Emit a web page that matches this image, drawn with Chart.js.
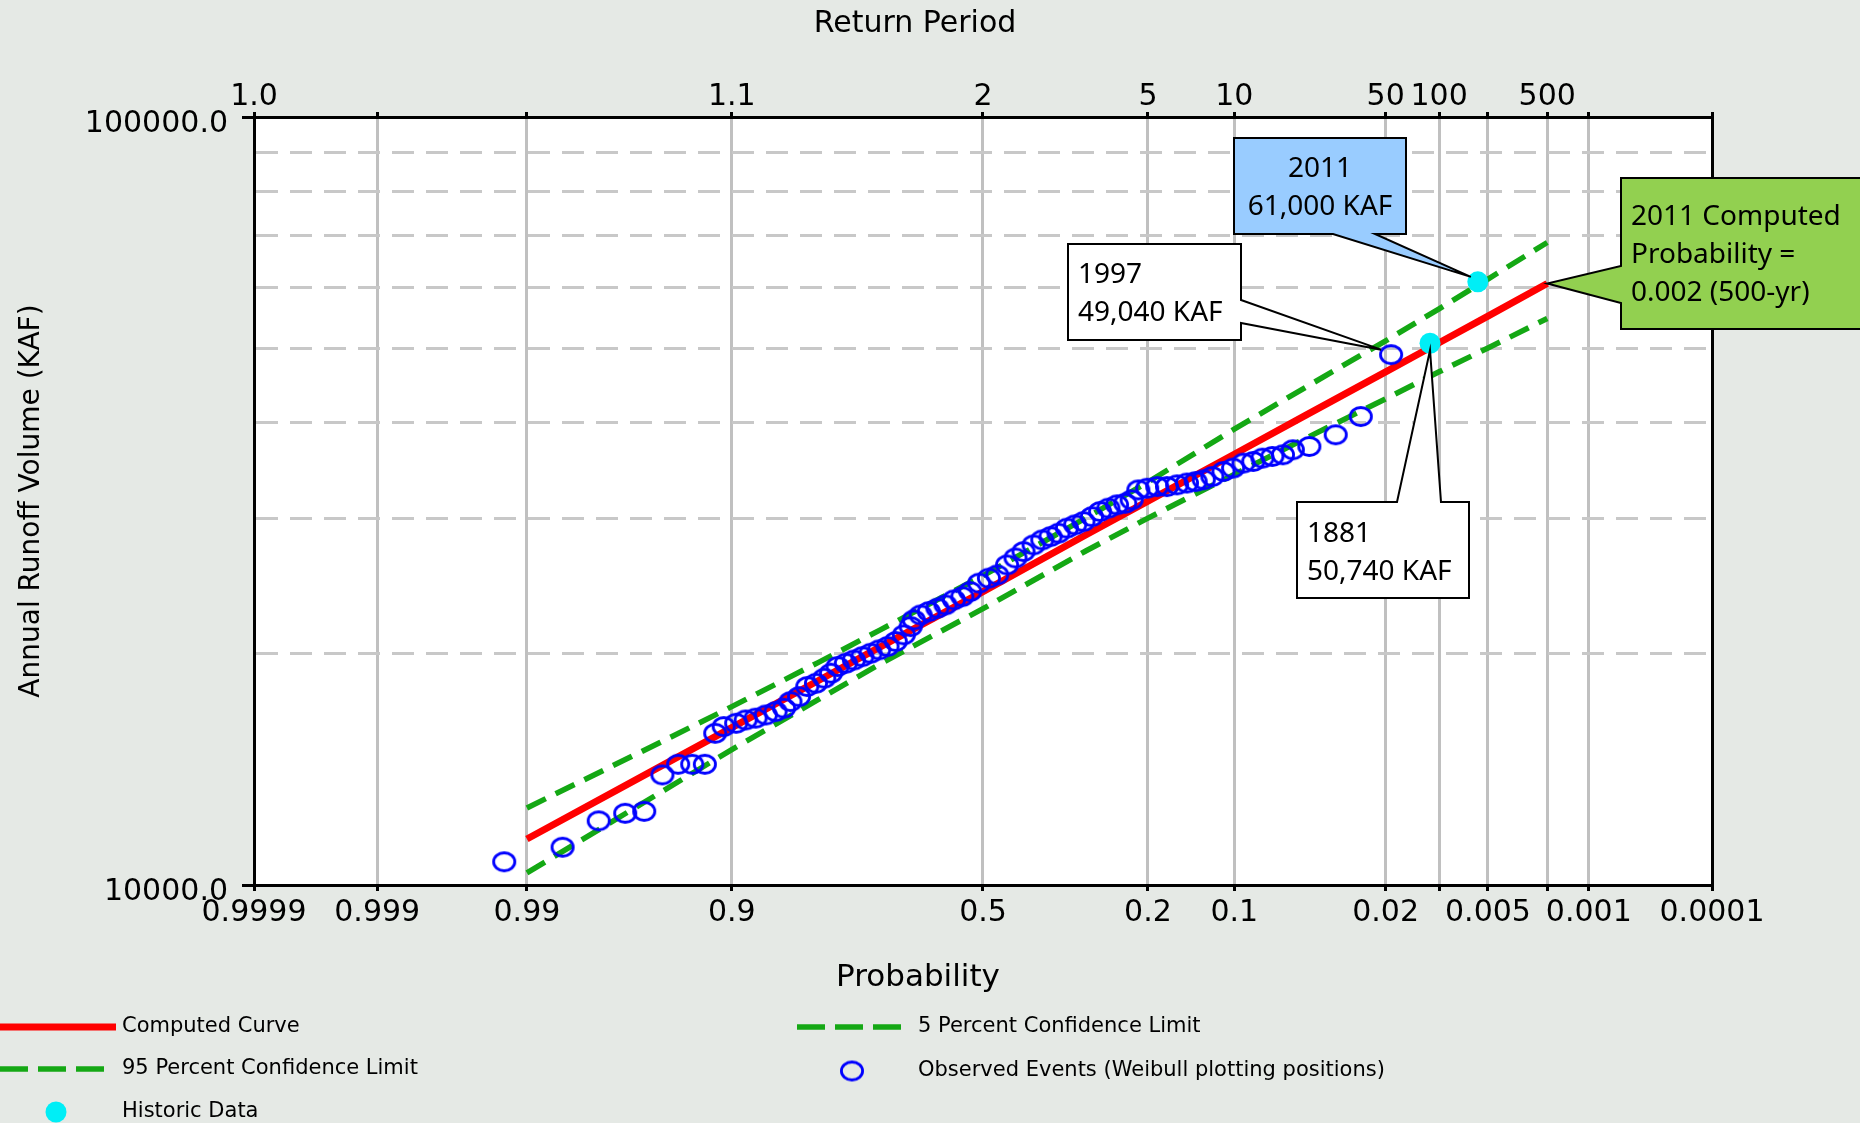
<!DOCTYPE html>
<html>
<head>
<meta charset="utf-8">
<title>Annual Runoff Volume Frequency Curve</title>
<script src="https://cdn.jsdelivr.net/npm/chart.js@4.4.1/dist/chart.umd.min.js"></script>
<style>
  html, body { margin: 0; padding: 0; background: #e5e9e5; overflow: hidden; }
  #chart { display: block; }
</style>
</head>
<body>
<canvas id="chart" width="1860" height="1123"></canvas>
<script>
// Axis ticks (exceedance probability, return period, volume)
const probTicks = [0.9999, 0.999, 0.99, 0.9, 0.5, 0.2, 0.1, 0.02, 0.01, 0.005, 0.002, 0.001, 0.0001]
const probLabels = ['0.9999', '0.999', '0.99', '0.9', '0.5', '0.2', '0.1', '0.02', '', '0.005', '', '0.001', '0.0001']
const returnLabels = ['1.0', '', '', '1.1', '2', '5', '10', '50', '100', '', '500', '', '']
const volumeTicks = [10000, 20000, 30000, 40000, 50000, 60000, 70000, 80000, 90000, 100000]
const volumeLabels = ['10000.0', '', '', '', '', '', '', '', '', '100000.0']

// Computed frequency curve and confidence limits (KAF)
const curveProb = [0.99, 0.95, 0.9, 0.8, 0.7, 0.5, 0.3, 0.2, 0.1, 0.05, 0.02, 0.01, 0.005, 0.002]
const computedCurve = [11480, 14270, 16030, 18450, 20420, 24100, 28560, 31610, 36380, 40880, 46580, 50820, 55050, 60700]
const upperLimit5 = [12600, 15340, 17070, 19480, 21490, 25280, 30050, 33470, 39230, 44460, 51120, 56270, 61520, 68640]
const lowerLimit95 = [10370, 13200, 15010, 17430, 19410, 22900, 27220, 30040, 34250, 38150, 42960, 46580, 50030, 54660]

// Observed events (Weibull plotting positions)
const observedProb = [
  0.9927, 0.984, 0.975, 0.966, 0.958, 0.949, 0.940, 0.931, 0.922, 0.914,
  0.907, 0.896, 0.887, 0.877, 0.866, 0.855, 0.845, 0.837, 0.826, 0.815,
  0.803, 0.791, 0.781, 0.771, 0.758, 0.745, 0.731, 0.717, 0.702, 0.687,
  0.672, 0.657, 0.644, 0.638, 0.625, 0.609, 0.592, 0.576, 0.559, 0.542,
  0.526, 0.508, 0.488, 0.471, 0.451, 0.434, 0.418, 0.398, 0.381, 0.365,
  0.350, 0.334, 0.319, 0.304, 0.289, 0.275, 0.261, 0.247, 0.234, 0.224,
  0.214, 0.201, 0.187, 0.174, 0.161, 0.149, 0.139, 0.130, 0.121, 0.110,
  0.101, 0.092, 0.084, 0.077, 0.070, 0.063, 0.057, 0.048, 0.036, 0.027,
  0.0187
]
const observedVolume = [
  10720, 11200, 12120, 12400, 12470, 13910, 14360, 14360, 14360, 15760,
  16080, 16240, 16400, 16490, 16650, 16820, 16990, 17330, 17590, 18130,
  18310, 18590, 18870, 19250, 19440, 19630, 19830, 20030, 20240, 20440,
  20750, 21170, 21700, 22140, 22470, 22700, 22930, 23160, 23510, 23740,
  24100, 24720, 25090, 25340, 26110, 26660, 27170, 27720, 28140, 28420,
  28710, 29150, 29440, 29730, 30170, 30640, 30950, 31260, 31410, 31730,
  32690, 32860, 33020, 33020, 33190, 33370, 33520, 33700, 34030, 34550,
  34900, 35430, 35600, 35960, 36140, 36320, 36870, 37240, 38570, 40740,
  49040
]

// Historic data
const historicYears = ['2011', '1881']
const historicProb = [0.0058, 0.0113]
const historicVolume = [61000, 50740]

// standard normal deviate for an exceedance probability (A&S 26.2.23)
function zOf(p) {
  const q = p > 0.5 ? 1 - p : p
  const t = Math.sqrt(-2 * Math.log(q))
  const z = t - (2.515517 + 0.802853 * t + 0.010328 * t * t) /
    (1 + 1.432788 * t + 0.189269 * t * t + 0.001308 * t * t * t)
  return p > 0.5 ? -z : z
}

// exceedance probability for a deviate (A&S 26.2.17)
function probOf(z) {
  const t = 1 / (1 + 0.2316419 * Math.abs(z))
  const d = 0.3989423 * Math.exp(-z * z / 2)
  const q = d * t * (0.3193815 + t * (-0.3565638 + t * (1.781478 + t * (-1.821256 + t * 1.330274))))
  return z > 0 ? q : 1 - q
}

// normal probability paper axis
class ProbabilityScale extends Chart.Scale {
  determineDataLimits() {
    this.min = this.options.min
    this.max = this.options.max
  }
  buildTicks() {
    return probTicks.map(value => ({ value }))
  }
  configure() {
    super.configure()
    this._zStart = zOf(this.min)
    this._zRange = zOf(this.max) - this._zStart
  }
  getLabelForValue(value) {
    return String(value)
  }
  getPixelForValue(value) {
    return this.getPixelForDecimal((zOf(value) - this._zStart) / this._zRange)
  }
  getValueForPixel(pixel) {
    return probOf(this._zStart + this.getDecimalForPixel(pixel) * this._zRange)
  }
}
ProbabilityScale.id = 'probability'
ProbabilityScale.defaults = {}
Chart.register(ProbabilityScale)

function makeRing(rx, ry, width, color) {
  const c = document.createElement('canvas')
  c.width = Math.ceil(2 * rx + width + 2)
  c.height = Math.ceil(2 * ry + width + 2)
  const g = c.getContext('2d')
  g.lineWidth = width
  g.strokeStyle = color
  g.beginPath()
  g.ellipse(c.width / 2, c.height / 2, rx, ry, 0, 0, Math.PI * 2)
  g.stroke()
  return c
}
const ring = makeRing(10.6, 9.0, 2.8, '#0000ff')

const pairs = (xs, ys) => xs.map((x, i) => ({ x, y: ys[i] }))
const tickFont = { family: 'DejaVu Sans', size: 30 }
const green = '#14a814'

const datasets = [
  {
    label: 'Computed Curve',
    data: pairs(curveProb, computedCurve),
    showLine: true,
    borderColor: '#ff0000',
    borderWidth: 7,
    pointRadius: 0,
    order: 4
  },
  {
    label: '5 Percent Confidence Limit',
    data: pairs(curveProb, upperLimit5),
    showLine: true,
    borderColor: green,
    borderWidth: 5.5,
    borderDash: [21, 11],
    pointRadius: 0,
    order: 3
  },
  {
    label: '95 Percent Confidence Limit',
    data: pairs(curveProb, lowerLimit95),
    showLine: true,
    borderColor: green,
    borderWidth: 5.5,
    borderDash: [21, 11],
    pointRadius: 0,
    order: 3
  },
  {
    label: 'Observed Events (Weibull plotting positions)',
    data: pairs(observedProb, observedVolume),
    showLine: false,
    pointStyle: ring,
    pointRadius: 11,
    order: 1
  },
  {
    label: 'Historic Data',
    data: pairs(historicProb, historicVolume),
    showLine: false,
    pointStyle: 'circle',
    pointRadius: 10.5,
    pointBackgroundColor: '#00eef6',
    backgroundColor: '#00eef6',
    pointBorderWidth: 0,
    borderWidth: 0,
    order: 0
  }
]

const legendSlots = [
  { dataset: 0, x0: 0, x1: 116, y: 1027, textX: 122 },
  { dataset: 1, x0: 797, x1: 906, y: 1027, textX: 918 },
  { dataset: 2, x0: 0, x1: 106, y: 1069, textX: 122 },
  { dataset: 3, x0: 852, y: 1071, textX: 918 },
  { dataset: 4, x0: 56, y: 1112, textX: 122 }
]

const callouts = [
  {
    lines: [historicYears[0], '61,000 KAF'], box: [1234, 138, 1406, 234], side: 'bottom', base: [1333, 1375],
    dataset: 4, index: 0, tipDx: -7, tipDy: -5, fill: '#99ccff', align: 'center', textX: 1320, textY: 169
  },
  {
    lines: ['1997', '49,040 KAF'], box: [1068, 244, 1241, 340], side: 'right', base: [300, 323],
    dataset: 3, index: observedProb.length - 1, tipDx: -10, tipDy: -5, fill: '#ffffff', align: 'left', textX: 1078, textY: 275
  },
  {
    lines: [historicYears[1], '50,740 KAF'], box: [1297, 502, 1469, 598], side: 'top', base: [1397, 1441],
    dataset: 4, index: 1, tipDx: 0, tipDy: 7, fill: '#ffffff', align: 'left', textX: 1307, textY: 534
  },
  {
    lines: ['2011 Computed', 'Probability =', '0.002 (500-yr)'], box: [1621, 178, 1868, 329], side: 'left', base: [266, 303],
    dataset: 0, index: curveProb.length - 1, tipDx: 0, tipDy: 0, fill: '#92d050', align: 'left', textX: 1631, textY: 217
  }
]

const backgroundPlugin = {
  id: 'background',
  beforeDraw(chart) {
    const { ctx, chartArea: a } = chart
    ctx.save()
    ctx.fillStyle = '#e5e9e5'
    ctx.fillRect(0, 0, chart.width, chart.height)
    ctx.fillStyle = '#ffffff'
    ctx.fillRect(a.left, a.top, a.right - a.left, a.bottom - a.top)
    ctx.restore()
  }
}

const titlesPlugin = {
  id: 'titles',
  afterDraw(chart) {
    const { ctx } = chart
    ctx.save()
    ctx.fillStyle = '#000'
    ctx.textAlign = 'center'
    ctx.textBaseline = 'middle'
    ctx.font = '30px "DejaVu Sans"'
    ctx.fillText('Return Period', 915, 24)
    ctx.font = '31px "DejaVu Sans"'
    ctx.fillText('Probability', 918, 978)
    ctx.restore()
  }
}

const legendPlugin = {
  id: 'bottomLegend',
  afterDraw(chart) {
    const { ctx } = chart
    ctx.save()
    ctx.font = '21px "DejaVu Sans"'
    ctx.textBaseline = 'middle'
    legendSlots.forEach(slot => {
      const ds = chart.data.datasets[slot.dataset]
      if (ds.showLine) {
        ctx.save()
        ctx.strokeStyle = ds.borderColor
        ctx.lineWidth = ds.borderWidth
        ctx.setLineDash(ds.borderDash ? [28, 10] : [])
        ctx.beginPath()
        ctx.moveTo(slot.x0, slot.y)
        ctx.lineTo(slot.x1, slot.y)
        ctx.stroke()
        ctx.restore()
      } else if (ds.pointStyle instanceof HTMLCanvasElement) {
        ctx.drawImage(ds.pointStyle, slot.x0 - ds.pointStyle.width / 2, slot.y - ds.pointStyle.height / 2)
      } else {
        ctx.fillStyle = ds.pointBackgroundColor
        ctx.beginPath()
        ctx.arc(slot.x0, slot.y, ds.pointRadius, 0, Math.PI * 2)
        ctx.fill()
      }
      ctx.fillStyle = '#000'
      ctx.fillText(ds.label, slot.textX, slot.y)
    })
    ctx.restore()
  }
}

const calloutPlugin = {
  id: 'callouts',
  afterDraw(chart) {
    const { ctx } = chart
    callouts.forEach(c => {
      const el = chart.getDatasetMeta(c.dataset).data[c.index]
      const tx = el.x + c.tipDx
      const ty = el.y + c.tipDy
      const [x1, y1, x2, y2] = c.box
      ctx.save()
      ctx.beginPath()
      ctx.moveTo(x1, y1)
      if (c.side === 'top') {
        ctx.lineTo(c.base[0], y1); ctx.lineTo(tx, ty); ctx.lineTo(c.base[1], y1)
      }
      ctx.lineTo(x2, y1)
      if (c.side === 'right') {
        ctx.lineTo(x2, c.base[0]); ctx.lineTo(tx, ty); ctx.lineTo(x2, c.base[1])
      }
      ctx.lineTo(x2, y2)
      if (c.side === 'bottom') {
        ctx.lineTo(c.base[1], y2); ctx.lineTo(tx, ty); ctx.lineTo(c.base[0], y2)
      }
      ctx.lineTo(x1, y2)
      if (c.side === 'left') {
        ctx.lineTo(x1, c.base[1]); ctx.lineTo(tx, ty); ctx.lineTo(x1, c.base[0])
      }
      ctx.closePath()
      ctx.fillStyle = c.fill
      ctx.fill()
      ctx.lineWidth = 2
      ctx.strokeStyle = '#000'
      ctx.stroke()
      ctx.font = '28px "Noto Sans"'
      ctx.fillStyle = '#000'
      ctx.textBaseline = 'middle'
      ctx.textAlign = c.align
      c.lines.forEach((line, i) => ctx.fillText(line, c.textX, c.textY + i * 38))
      ctx.restore()
    })
  }
}

const isEdge = c => c.tick && (c.index === 0 || c.index === probTicks.length - 1)
const isEndVolume = c => c.tick && (c.tick.value === volumeTicks[0] || c.tick.value === volumeTicks[volumeTicks.length - 1])

new Chart(document.getElementById('chart'), {
  type: 'scatter',
  data: { datasets },
  plugins: [backgroundPlugin, titlesPlugin, legendPlugin, calloutPlugin],
  options: {
    responsive: false,
    animation: false,
    events: [],
    layout: { padding: { left: 0, right: 148, top: 0, bottom: 178 } },
    plugins: {
      legend: { display: false },
      tooltip: { enabled: false }
    },
    scales: {
      x: {
        type: 'probability',
        axis: 'x',
        position: 'bottom',
        min: probTicks[0],
        max: probTicks[probTicks.length - 1],
        afterFit: scale => { scale.height = 60 },
        grid: {
          color: c => isEdge(c) ? 'transparent' : '#c0c0c0',
          lineWidth: 3,
          tickColor: '#000',
          tickLength: 6,
          tickWidth: 3
        },
        border: { color: '#000', width: 3 },
        ticks: {
          autoSkip: false,
          maxRotation: 0,
          padding: 4,
          color: '#000',
          font: tickFont,
          callback: (v, i) => probLabels[i]
        }
      },
      x2: {
        type: 'probability',
        axis: 'x',
        position: 'top',
        min: probTicks[0],
        max: probTicks[probTicks.length - 1],
        afterFit: scale => { scale.height = 117 },
        grid: {
          drawOnChartArea: false,
          tickColor: '#000',
          tickLength: 5,
          tickWidth: 3
        },
        border: { color: '#000', width: 3 },
        ticks: {
          autoSkip: false,
          maxRotation: 0,
          padding: -3,
          color: '#000',
          font: tickFont,
          callback: (v, i) => returnLabels[i]
        }
      },
      y: {
        type: 'logarithmic',
        position: 'left',
        min: volumeTicks[0],
        max: volumeTicks[volumeTicks.length - 1],
        afterBuildTicks: scale => { scale.ticks = volumeTicks.map(value => ({ value })) },
        afterFit: scale => { scale.width = 254 },
        grid: {
          color: c => isEndVolume(c) ? 'transparent' : '#c8c8c8',
          lineWidth: 3,
          tickColor: c => isEndVolume(c) ? '#000' : 'transparent',
          tickLength: 12,
          tickWidth: 3
        },
        border: { color: '#000', width: 3, dash: [22, 12] },
        ticks: {
          padding: 14,
          labelOffset: 7,
          color: '#000',
          font: tickFont,
          callback: (v, i) => volumeLabels[i]
        },
        title: {
          display: true,
          text: 'Annual Runoff Volume (KAF)',
          color: '#000',
          font: { family: 'DejaVu Sans', size: 28 },
          padding: { top: 15, bottom: 0 }
        }
      },
      y2: {
        type: 'logarithmic',
        axis: 'y',
        position: 'right',
        min: volumeTicks[0],
        max: volumeTicks[volumeTicks.length - 1],
        afterFit: scale => { scale.width = 0 },
        grid: { drawOnChartArea: false, drawTicks: false },
        border: { color: '#000', width: 3 },
        ticks: { display: false }
      }
    }
  }
})
</script>
</body>
</html>
